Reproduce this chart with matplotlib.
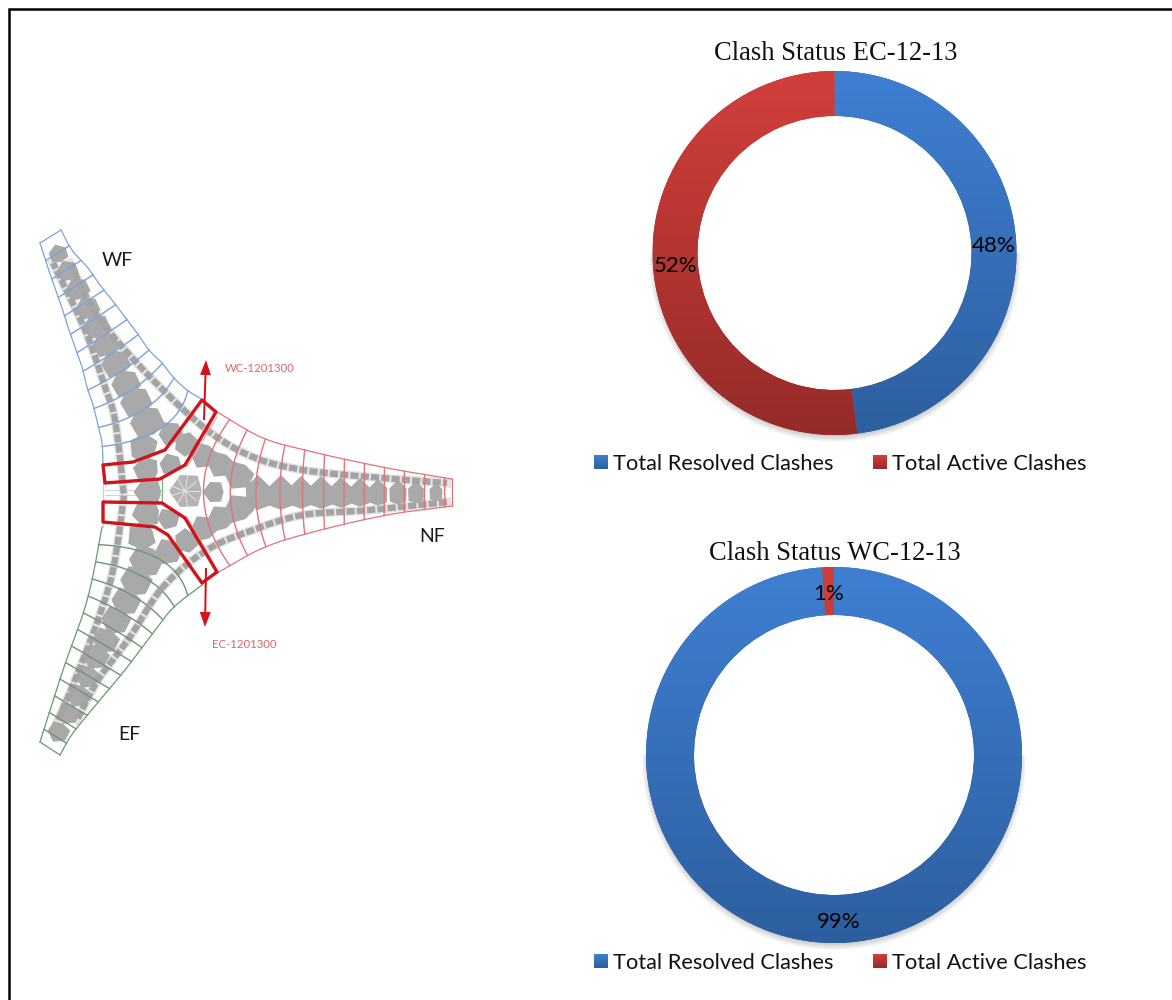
import numpy as np
import matplotlib
matplotlib.use("Agg")
import matplotlib.pyplot as plt
from matplotlib.colors import LinearSegmentedColormap
from matplotlib.patches import Polygon, FancyArrow

W, H = 1172, 1000

# Clash status data
series_labels = ["Total Resolved Clashes", "Total Active Clashes"]
ec_title = "Clash Status EC-12-13"
ec_values = [48, 52]
wc_title = "Clash Status WC-12-13"
wc_values = [99, 1]

# Outline of the tower floor plate, one list of points per edge (wing tip first)
wf_left = [(40, 243), (48, 268), (55, 288), (62, 308), (68, 327), (75, 347), (82, 367), (87, 387),
           (93, 405), (98, 425), (102, 443), (103, 465)]
wf_right = [(61, 230), (72, 250), (88, 268), (100, 285), (112, 300), (125, 317), (137, 333), (149, 350),
            (162, 363), (173, 377), (187, 390), (203, 400)]
nf_upper = [(452, 479), (387, 468), (313, 452), (263, 438), (217, 412)]
nf_lower = [(452, 506), (387, 515), (313, 532), (263, 548), (217, 573)]
ef_left = [(40, 742), (63, 670), (82, 617), (92, 580), (102, 527)]
ef_right = [(60, 755), (73, 733), (100, 700), (125, 670), (150, 637), (173, 608), (202, 585)]

# Dashed structural bands running from wing tip to wing tip
band_a = [(70, 263), (88, 300), (108, 330), (153, 380), (207, 430), (253, 457), (303, 470), (370, 477), (447, 483)]
band_b = [(447, 502), (370, 510), (303, 515), (253, 530), (207, 550), (163, 587), (130, 637), (98, 680), (77, 720)]
band_c = [(58, 720), (75, 680), (98, 620), (113, 570), (123, 503), (123, 487), (115, 420), (105, 387), (85, 330), (53, 263)]

# Gray room blocks in the wings and core: x, y, half size, orientation in degrees
blocks = [
    (58, 253, 8, 70), (67, 270, 9, 65), (77, 288, 10, 62), (87, 307, 10, 62), (96, 325, 11, 62),
    (105, 343, 11, 62), (115, 362, 12, 62), (125, 382, 12, 62), (135, 400, 13, 62), (146, 420, 14, 62),
    (142, 447, 12, 30), (145, 470, 11, 10), (170, 432, 10, 60), (185, 443, 10, 40), (170, 463, 9, 70),
    (147, 492, 12, 0), (145, 513, 12, -10), (140, 537, 12, -30), (185, 542, 10, -40), (168, 520, 9, -70),
    (168, 553, 11, -65), (145, 563, 14, -60), (135, 583, 13, -60), (125, 603, 12, -60), (115, 622, 12, -60),
    (105, 642, 11, -60), (95, 658, 11, -60), (87, 678, 10, -60), (78, 697, 10, -60), (68, 715, 9, -60),
    (58, 733, 9, -60), (213, 492, 9, 0), (203, 527, 11, 60), (220, 517, 11, 60), (238, 507, 12, 60),
    (203, 457, 11, -60), (220, 466, 11, -60), (238, 477, 12, -60),
]
# Row of tall blocks down the north wing: x, half height
nf_row_x = [258, 281, 301, 321, 341, 360, 378, 398, 416, 436]
nf_row_h = [17, 17, 16, 16, 15, 14, 13, 12, 11, 9]

# Section cut outlines
cut_wc = [(103, 465), (133, 462), (165, 450), (202, 400), (216, 412), (185, 465), (160, 479), (105, 483)]
cut_ec = [(103, 502), (162, 503), (185, 518), (217, 572), (202, 583), (168, 535), (155, 527), (103, 522)]


def smooth(points, n=200):
    """Catmull-Rom curve through the given points."""
    p = np.asarray(points, dtype=float)
    p = np.vstack([2 * p[0] - p[1], p, 2 * p[-1] - p[-2]])
    out = []
    per = max(2, n // (len(p) - 3))
    for i in range(1, len(p) - 2):
        u = np.linspace(0, 1, per, endpoint=False)[:, None]
        out.append(0.5 * (2 * p[i] + (p[i + 1] - p[i - 1]) * u
                          + (2 * p[i - 1] - 5 * p[i] + 4 * p[i + 1] - p[i + 2]) * u ** 2
                          + (3 * p[i] - p[i - 1] - 3 * p[i + 1] + p[i + 2]) * u ** 3))
    out.append(p[-2][None])
    return np.vstack(out)


def along(curve, t):
    """Point at arc-length fraction t on a sampled curve."""
    s = np.r_[0, np.cumsum(np.hypot(*np.diff(curve, axis=0).T))]
    s /= s[-1]
    return np.array([np.interp(t, s, curve[:, 0]), np.interp(t, s, curve[:, 1])])


def wing(ax, edge_a, edge_b, color, ribs, t_range, bow, hub):
    """Draw one wing: both edges, the tip and the ribs, which bend toward the hub near the core."""
    a, b = smooth(edge_a), smooth(edge_b)
    for line in (a, b):
        ax.plot(line[:, 0], line[:, 1], color=color, lw=0.9, zorder=4)
    ax.plot([a[0, 0], b[0, 0]], [a[0, 1], b[0, 1]], color=color, lw=0.9, zorder=4)
    for t in np.linspace(t_range[0], t_range[1], ribs):
        pa, pb = along(a, t), along(b, t)
        mid = (pa + pb) / 2
        ctrl = mid + (np.asarray(hub) - mid) * bow * t ** 7.5
        u = np.linspace(0, 1, 30)[:, None]
        rib = (1 - u) ** 2 * pa + 2 * u * (1 - u) * ctrl + u ** 2 * pb
        ax.plot(rib[:, 0], rib[:, 1], color=color, lw=1.0, zorder=4)


def block(ax, x, y, size, angle, color="#a9a9a9", aspect=1.0):
    """Pointed six-sided room block; the long axis lies along the given angle."""
    rad = np.radians(angle)
    u = np.array([-1.0, -0.3, 0.8, 1.05, 0.8, -0.3])
    v = np.array([0.0, 1.0, 0.95, 0.0, -0.95, -1.0]) * aspect
    xs = x + size * (u * np.cos(rad) - v * np.sin(rad))
    ys = y + size * (u * np.sin(rad) + v * np.cos(rad))
    ax.add_patch(Polygon(np.c_[xs, ys], closed=True, fc=color, ec="none", zorder=2))


def gradient(ax, extent, top, bottom, clip=None, zorder=3):
    cmap = LinearSegmentedColormap.from_list("fade", [top, bottom])
    img = ax.imshow(np.linspace(0, 1, 256)[:, None], cmap=cmap, extent=extent,
                    origin="upper", aspect="auto", interpolation="bilinear", zorder=zorder)
    if clip is not None:
        img.set_clip_path(clip)
    return img


BLUE = ("#3f7fd2", "#2d5f9f")
RED = ("#d23f3b", "#952b28")


def ring_shadow(ax, cx, cy, outer):
    """Soft crescent of shadow that shows below the lower rim of a ring."""
    pad = 14
    xs = np.arange(cx - outer - pad, cx + outer + pad)
    ys = np.arange(cy, cy + outer + pad)
    gx, gy = np.meshgrid(xs, ys)
    d_shadow = np.hypot(gx - cx, gy - (cy + 3))
    alpha = np.clip((outer + 5 - d_shadow) / 10, 0, 1) * 0.5
    alpha[np.hypot(gx - cx, gy - cy) < outer - 1] = 0
    rgba = np.zeros(alpha.shape + (4,))
    rgba[..., :3] = 0.45
    rgba[..., 3] = alpha
    ax.imshow(rgba, extent=(xs[0], xs[-1], ys[-1], ys[0]), origin="upper",
              aspect="auto", interpolation="bilinear", zorder=1)


def donut(fig, cx, cy, outer, inner, values):
    """Ring chart centred at pixel (cx, cy), starting at twelve o'clock and running clockwise."""
    ax = fig.add_axes([(cx - outer - 2) / W, 1 - (cy + outer + 2) / H,
                       (2 * outer + 4) / W, (2 * outer + 4) / H])
    ax.set_zorder(3)
    ax.patch.set_visible(False)
    wedges, _, pcts = ax.pie(values, startangle=90, counterclock=False, radius=1.0,
                             colors=[BLUE[1], RED[1]], autopct="%.0f%%",
                             pctdistance=(outer + inner) / (2 * outer),
                             wedgeprops=dict(width=(outer - inner) / outer, linewidth=0),
                             textprops=dict(fontfamily="Lato", fontsize=16, color="black"))
    for w, shade in zip(wedges, (BLUE, RED)):
        gradient(ax, (-1, 1, -1, 1), shade[0], shade[1], clip=w)
    for t in pcts:
        x, y = t.get_position()
        t.set_position((x, y - 3 / outer))
        t.set_zorder(6)
    lim = (outer + 2) / outer
    ax.set_xlim(-lim, lim)
    ax.set_ylim(-lim, lim)
    ax.set_aspect("equal")
    ax.axis("off")


def legend(ax, y):
    for x0, xt, shade, label in ((594, 613, BLUE, series_labels[0]), (873, 892, RED, series_labels[1])):
        gradient(ax, (x0, x0 + 14, y + 7, y - 7), shade[0], shade[1])
        ax.text(xt, y + 2, label, family="Lato", fontsize=15.7, color="#111111", va="center", ha="left")


fig = plt.figure(figsize=(W / 100, H / 100), dpi=100, facecolor="white")

canvas = fig.add_axes([0, 0, 1, 1])
canvas.set_xlim(0, W)
canvas.set_ylim(H, 0)
canvas.axis("off")

# Frame: top and left rules only
canvas.plot([9, 9, W], [H, 9, 9], color="black", lw=1.8, solid_joinstyle="miter", zorder=10)

# Floor plate
for x, y, s, a in blocks:
    block(canvas, x, y, s * 1.12, a)
for x, h in zip(nf_row_x, nf_row_h):
    block(canvas, x, 492, h, 90, aspect=0.72)
for band in (band_a, band_b, band_c):
    c = smooth(band, 300)
    canvas.plot(c[:, 0], c[:, 1], color="#cdcdcd", lw=6.5, alpha=0.55, zorder=1)
    canvas.plot(c[:, 0], c[:, 1], color="#a3a3a3", lw=4.5, ls=(0, (1.3, 0.35)), zorder=2)

wing(canvas, wf_left, wf_right, "#7ba3da", 11, (0.08, 0.92), 0.7, (230, 470))
wing(canvas, nf_lower, nf_upper, "#e2737a", 12, (0.03, 0.94), 1.4, (170, 491))
wing(canvas, ef_left, ef_right, "#6c9872", 12, (0.06, 0.92), 0.7, (230, 512))

# Central hub lines
canvas.plot([103, 103], [463, 527], color="#cfcfcf", lw=0.8, zorder=1)
canvas.plot([162, 162], [478, 504], color="#7fae86", lw=0.9, zorder=4)
canvas.plot([105, 162], [490, 490], color="#d0d0d0", lw=0.7, zorder=1)
canvas.plot([105, 162], [495, 495], color="#d0d0d0", lw=0.7, zorder=1)
canvas.plot([187, 217], [467, 417], color="#eea5a9", lw=0.8, zorder=3)
canvas.plot([187, 217], [517, 570], color="#eea5a9", lw=0.8, zorder=3)
block(canvas, 185, 491, 16, 0, color="#b4b4b4")
for a in np.radians(np.arange(0, 360, 40)):
    canvas.plot([185, 185 + 15 * np.cos(a)], [491, 491 + 15 * np.sin(a)], color="#e4e4e4", lw=0.7, zorder=3)

# Section cuts
for cut in (cut_wc, cut_ec):
    canvas.add_patch(Polygon(cut, closed=True, fc="none", ec="#d0141c", lw=2.4, joinstyle="round", zorder=6))
canvas.add_patch(FancyArrow(204, 420, 2, -60, width=2, head_width=11, head_length=15,
                            length_includes_head=True, fc="#d5121c", ec="none", zorder=7))
canvas.add_patch(FancyArrow(206, 568, -1, 59, width=2, head_width=11, head_length=15,
                            length_includes_head=True, fc="#d5121c", ec="none", zorder=7))

canvas.text(225, 368, "WC-1201300", family="Lato", fontsize=8.2, color="#e2636a", va="center")
canvas.text(212, 644, "EC-1201300", family="Lato", fontsize=8.2, color="#e2636a", va="center")
for x, y, s in ((102, 261, "WF"), (419, 536, "NF"), (118, 735, "EF")):
    canvas.text(x, y, s, family="Lato", fontsize=14, color="#1a1a1a", va="center")

# Ring charts
ring_shadow(canvas, 834.5, 253, 182)
ring_shadow(canvas, 834, 755, 188)
donut(fig, 834.5, 253, 182, 137, ec_values)
donut(fig, 834, 755, 188, 140, wc_values)

canvas.text(835.5, 54, ec_title, family="Liberation Serif", fontsize=19.1, color="#111111", ha="center", va="center")
canvas.text(835, 553, wc_title, family="Liberation Serif", fontsize=19.1, color="#111111", ha="center", va="center")
legend(canvas, 462)
legend(canvas, 961)
canvas.set_xlim(0, W)
canvas.set_ylim(H, 0)

fig.savefig("out.png", dpi=100, facecolor="white")
